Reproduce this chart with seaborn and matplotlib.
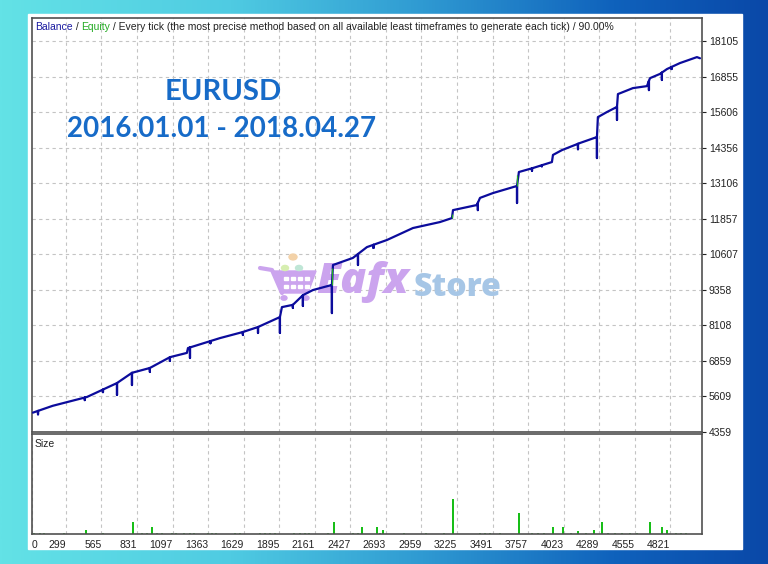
import numpy as np
import pandas as pd
import matplotlib
matplotlib.use("Agg")
import matplotlib.pyplot as plt
from matplotlib.colors import LinearSegmentedColormap
from matplotlib.patches import Rectangle, Polygon, Circle
import seaborn as sns

# balance curve vertices: trade number, balance
bal_trade = [52, 200, 456, 681, 793, 927, 1077, 1204, 1212, 1451, 1623, 1736, 1900, 1915,
             1997, 2072, 2147, 2289, 2297, 2446, 2551, 2701, 2895, 3097, 3187, 3195, 3374,
             3397, 3494, 3674, 3688, 3793, 3935, 3943, 4010, 4145, 4272, 4279, 4347, 4422,
             4429, 4541, 4646, 4669, 4744, 4796, 4893, 5020, 5043]
bal_value = [5040, 5280, 5590, 6080, 6440, 6610, 6990, 7140, 7310, 7660, 7875, 8050, 8400, 8750,
             8830, 9170, 9350, 9530, 10230, 10480, 10860, 11110, 11530, 11740, 11880, 12160, 12340,
             12590, 12760, 13010, 13500, 13640, 13850, 14100, 14270, 14520, 14730, 15430, 15610, 15790,
             16240, 16450, 16520, 16800, 16950, 17120, 17330, 17540, 17500]

# equity drawdown spikes: trade number, lowest equity
dip_trade = [90, 440, 576, 681, 793, 927, 1077, 1227, 1380, 1623, 1736, 1900, 1997, 2072, 2289,
             2484, 2600, 3381, 3674, 3786, 3860, 4130, 4272, 4422, 4661, 4758, 4830]
dip_low = [4980, 5480, 5760, 5660, 6010, 6470, 6860, 6960, 7480, 7770, 7840, 7840, 8720, 8790,
           8540, 10230, 10830, 12160, 12410, 13540, 13700, 14300, 13990, 15330, 16380, 16735, 17120]

# trade lot sizes
size_trade = [449, 800, 942, 2304, 2514, 2626, 2671, 3195, 3688, 3943, 4018, 4130, 4250,
              4309, 4668, 4758, 4796]
size_lots = [0.04, 0.12, 0.07, 0.12, 0.07, 0.07, 0.04, 0.34, 0.21, 0.07, 0.07, 0.03, 0.04,
             0.12, 0.12, 0.07, 0.04]
small_trade = [60, 104, 134, 284, 576, 868, 905, 980, 1017, 1092, 1122, 1182, 1227, 1257, 1361,
               1391, 1421, 1563, 1601, 1750, 1788, 1825, 1863, 2005, 2050, 2087, 2117, 2259,
               2446, 2484, 2648, 2828, 2993, 3127, 3396, 3434, 3471, 3546, 3786, 3830, 3875,
               4077, 4190, 4354, 4407, 4459, 4519, 4571, 4863, 4900, 4938]
small_lots = 0.012

y_ticks = [4359, 5609, 6859, 8108, 9358, 10607, 11857, 13106, 14356, 15606, 16855, 18105]
x_ticks = [299, 565, 831, 1097, 1363, 1629, 1895, 2161, 2427, 2693, 2959, 3225, 3491,
           3757, 4023, 4289, 4555, 4821]

x_min, x_max = 45, 5058
y_min, y_max = 4359, 18915

# balance line with the equity spikes put in
base = pd.DataFrame({"trade": bal_trade, "balance": bal_value, "o": 0})
rows = []
for d, low in zip(dip_trade, dip_low):
    b = np.interp(d, bal_trade, bal_value)
    rows += [(d, b, 1), (d, low, 2), (d, b, 3)]
spikes = pd.DataFrame(rows, columns=["trade", "balance", "o"])
curve = pd.concat([base, spikes]).sort_values(["trade", "o"], kind="mergesort")

sns.set_style("white")
plt.rcParams["font.family"] = ["Liberation Sans", "DejaVu Sans"]

W, H = 768, 564
fig = plt.figure(figsize=(W / 100, H / 100), dpi=100)

# backdrop
bg = fig.add_axes([0, 0, 1, 1], zorder=-10)
grad = LinearSegmentedColormap.from_list(
    "bg", [(0, "#63e2e6"), (0.3, "#4fcbe2"), (0.55, "#2f9ad2"), (0.8, "#0f62bc"), (1, "#0a48a8")])
bg.imshow(np.linspace(0, 1, 512)[None, :], cmap=grad, aspect="auto", extent=[0, 1, 0, 1])
bg.add_patch(Rectangle((28 / W, 15 / H), 714 / W, 535 / H, color="white", zorder=2))
bg.set_xlim(0, 1)
bg.set_ylim(0, 1)
bg.axis("off")

ax = fig.add_axes([32 / W, (H - 432) / H, 670 / W, 414 / H])
ax2 = fig.add_axes([32 / W, (H - 534) / H, 670 / W, 100 / H])

grid_kw = dict(color="#c4c4c4", lw=0.8, ls=(0, (3, 3)))
fs = 7.5

# main chart
sns.lineplot(data=curve, x="trade", y="balance", sort=False, estimator=None,
             color="#0c0c9c", lw=1.6, ax=ax, zorder=4)
jump_idx = [17, 24, 29]
ax.vlines([bal_trade[i] + 2 for i in jump_idx], [bal_value[i] for i in jump_idx],
          [bal_value[i + 1] - 120 for i in jump_idx], color="#22aa22", lw=0.9, zorder=5)
ax.set_xlim(x_min, x_max)
ax.set_ylim(y_min, y_max)
ax.set_xticks(x_ticks)
ax.set_xticklabels([])
ax.set_yticks(y_ticks)
ax.set_yticklabels([str(v) for v in y_ticks])
ax.yaxis.tick_right()
ax.tick_params(axis="y", length=3, width=0.8, pad=2, labelsize=fs, colors="#222222")
ax.tick_params(axis="x", length=0)
ax.grid(True, **grid_kw)
ax.set_xlabel("")
ax.set_ylabel("")

# header line
t1 = ax.text(0.0045, 0.99, "Balance", color="#1a1aa0", fontsize=fs, va="top", transform=ax.transAxes)
t2 = ax.annotate(" / ", xy=(1, 0), xycoords=t1, va="bottom", fontsize=fs, color="#222222")
t3 = ax.annotate("Equity", xy=(1, 0), xycoords=t2, va="bottom", fontsize=fs, color="#22aa22")
ax.annotate(" / Every tick (the most precise method based on all available least timeframes "
            "to generate each tick) / 90.00%", xy=(1, 0), xycoords=t3, va="bottom",
            fontsize=fs, color="#222222")

# title
ax.text(223 / W, 1 - 92 / H, "EURUSD", transform=fig.transFigure, ha="center", va="center",
        fontsize=21, fontweight="bold", color="#176bc8", family=["Lato", "DejaVu Sans"])
ax.text(222 / W, 1 - 129 / H, "2016.01.01 - 2018.04.27", transform=fig.transFigure,
        ha="center", va="center", fontsize=20, fontweight="bold", color="#176bc8",
        family=["Lato", "DejaVu Sans"])

# watermark
lav = "#cba4ee"
ax.text(362 / W, 1 - 282 / H, "Eafx", transform=fig.transFigure, ha="center", va="center",
        fontsize=31, fontweight="heavy", style="italic", color=lav, zorder=1,
        family=["Open Sans", "DejaVu Sans"])
ax.text(458 / W, 1 - 288 / H, "Store", transform=fig.transFigure, ha="center", va="center",
        fontsize=23, fontweight="heavy", color="#a6c6e6", zorder=1,
        family=["Open Sans", "DejaVu Sans"])
px = lambda x, y: (x / W, 1 - y / H)
ax.add_artist(Polygon([px(274, 271), px(316, 271), px(308, 293), px(282, 293)],
                      closed=True, color=lav, transform=fig.transFigure, zorder=1))
ax.add_artist(plt.Line2D([260 / W, 272 / W, 282 / W], [1 - 268 / H, 1 - 270 / H, 1 - 293 / H],
                         color=lav, lw=3, transform=fig.transFigure, zorder=1))
for hx in (284, 291, 298, 305):
    for hy in (277, 285):
        ax.add_artist(Rectangle(px(hx, hy + 3), 4 / W, 3 / H, color="white",
                                transform=fig.transFigure, zorder=1))
for cx, cy, c, r in [(284, 298, lav, 3), (306, 298, lav, 3), (293, 257, "#f3d2a8", 4),
                     (285, 268, "#d6eeb0", 3.5), (299, 268, "#bfe6d6", 3.5)]:
    ax.add_artist(Circle(px(cx, cy), r / W, color=c, transform=fig.transFigure, zorder=1))

# size panel
ax2.vlines(size_trade, 0, size_lots, color="#00b800", lw=1.3)
ax2.vlines(small_trade, 0, small_lots, color="#33bb33", lw=1.2)
ax2.set_xlim(x_min, x_max)
ax2.set_ylim(0, 0.98)
ax2.set_yticks([])
ax2.set_xticks([x_min] + x_ticks)
ax2.set_xticklabels(["0"] + [str(v) for v in x_ticks])
for i, lab in enumerate(ax2.get_xticklabels()):
    lab.set_ha("left" if i == 0 else "right")
ax2.tick_params(axis="x", length=2, width=0.8, pad=2, labelsize=fs, colors="#222222")
ax2.grid(True, axis="x", **grid_kw)
ax2.text(0.0045, 0.9, "Size", transform=ax2.transAxes, fontsize=fs, va="center", color="#222222")

for a in (ax, ax2):
    for s in a.spines.values():
        s.set_color("#505050")
        s.set_linewidth(1.2)
    a.set_facecolor("white")

fig.savefig("out.png", dpi=100)
